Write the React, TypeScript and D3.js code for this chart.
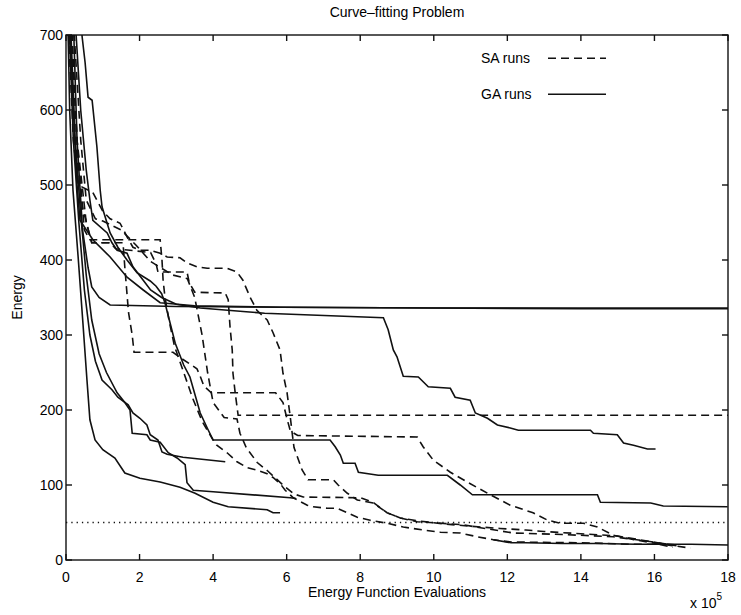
import React, { useEffect, useRef } from 'react';
import * as d3 from 'd3';

type Pt = [number, number];

// x in units of 1e5 evaluations, y = energy
const saRunA: Pt[] = [[0.1,720],[0.25,560],[0.45,470],[0.7,423],[1.2,423],[1.35,415],[2.3,410],[2.45,395],[2.5,384],[3.29,384],[3.35,370],[3.5,357],[4.33,356],[4.41,347],[4.46,311],[4.52,280],[4.54,249],[4.6,223],[4.68,193],[18,193]];
const saRunB: Pt[] = [[0.05,720],[0.2,560],[0.33,500],[0.73,490],[1.0,465],[1.2,455],[1.47,449],[1.66,431],[1.82,417],[2.01,413],[2.29,413],[2.56,409],[2.75,404],[3.1,403],[3.29,396],[3.56,391],[3.84,389],[4.38,389],[4.65,384],[4.81,373],[5.0,351],[5.19,333],[5.47,320],[5.63,303],[5.82,280],[5.9,249],[6.01,223],[6.1,190],[6.15,169],[6.2,150],[6.42,120],[6.58,107],[7.27,107],[7.4,100],[7.65,89],[7.92,80],[8.35,76],[8.73,63],[9.09,56],[9.55,51],[10.18,49],[10.8,47],[11.27,43],[12.16,36],[13.5,34],[14.88,31],[15.97,24],[16.6,19]];
const saRunC: Pt[] = [[0.15,720],[0.3,560],[0.5,440],[0.65,427],[2.56,427],[2.61,400],[2.64,373],[2.69,351],[2.8,320],[2.95,285],[3.2,250],[3.45,215],[3.7,185],[4.0,160],[4.1,153],[4.38,143],[4.65,131],[4.93,123],[5.19,120],[5.47,115],[5.63,110],[5.82,102],[5.96,93],[6.18,83],[6.56,73],[6.72,71],[7.1,69],[7.37,69],[7.65,63],[7.92,57],[8.27,53],[8.73,49],[9.17,44],[9.71,40],[10.18,37],[10.72,36],[11.18,31],[11.62,27],[12.1,24],[14,23],[15.35,21],[16.1,21],[16.5,17]];
const saRunD: Pt[] = [[0.12,720],[0.3,560],[0.55,450],[0.7,423],[1.55,423],[1.6,390],[1.7,330],[1.8,300],[1.85,277],[2.91,277],[3.1,270],[3.35,262],[3.56,255],[3.65,245],[3.75,232],[3.95,223],[5.7,223],[5.9,210],[6.0,190],[6.1,172],[6.3,166],[9.55,164],[9.71,151],[9.99,133],[10.45,117],[10.91,104],[11.46,89],[12.08,73],[12.7,63],[13.1,53],[13.44,49],[14.07,49],[14.45,44],[14.88,33],[15.35,28],[15.81,24],[16.35,20],[16.98,16]];
const saRunE: Pt[] = [[0.2,720],[0.4,560],[0.55,480],[0.8,455],[1.0,452],[1.5,440],[1.9,420],[2.3,398],[2.9,380],[3.3,375],[3.5,350],[3.7,300],[3.85,250],[4.0,210],[4.3,190],[4.65,188],[4.73,169],[4.9,150],[5.2,130],[5.5,118],[5.9,100],[6.2,88],[6.45,84],[8.0,83],[8.35,77],[8.73,63],[9.09,56],[9.6,52],[10.3,48],[11.0,45],[11.8,42],[12.5,40],[13.0,38],[14.0,35],[15.0,32],[15.6,27],[16.2,22],[16.6,20]];

const gaRun1: Pt[] = [[0.2,720],[0.3,560],[0.45,440],[0.6,390],[0.7,364],[0.9,350],[1.2,340],[3,338],[6,337],[10,336],[14,335],[18,335]];
const gaRun2: Pt[] = [[0.1,720],[0.2,600],[0.3,500],[0.38,453],[0.73,427],[1.2,404],[1.66,377],[2.1,360],[2.56,343],[3.5,339],[5.82,337],[10,336],[18,336]];
const gaRun3: Pt[] = [[0.25,720],[0.4,600],[0.55,520],[0.65,480],[0.73,453],[1.12,436],[1.25,423],[1.39,413],[1.66,409],[1.82,391],[2.1,373],[2.3,360],[2.6,350],[3.0,341],[3.65,336],[4.9,331],[5.4,329],[8.63,323],[8.76,307],[8.9,280],[9.0,271],[9.17,245],[9.58,244],[9.85,231],[10.45,229],[10.58,217],[10.99,213],[11.13,196],[11.46,189],[11.73,180],[12.08,176],[12.3,173],[14.26,173],[14.34,169],[14.99,167],[15.16,156],[15.43,153],[15.81,148],[16.03,148]];
const gaRun4: Pt[] = [[0.4,720],[0.44,697],[0.52,663],[0.6,617],[0.71,613],[0.84,551],[0.93,493],[0.98,471],[1.2,436],[1.41,417],[1.66,400],[1.93,383],[2.29,372],[2.45,365],[2.6,355],[2.69,343],[2.83,316],[2.97,289],[3.2,260],[3.37,244],[3.65,196],[3.85,175],[4.0,160],[7.18,160],[7.32,151],[7.46,140],[7.54,129],[7.86,129],[7.95,117],[8.49,113],[10.37,113],[10.72,100],[11.05,87],[14.45,87],[14.53,77],[15.9,76],[16.24,72],[17.99,71]];
const gaRun5: Pt[] = [[0.05,720],[0.1,600],[0.19,493],[0.33,404],[0.46,316],[0.57,240],[0.65,187],[0.79,160],[1.0,147],[1.33,136],[1.6,116],[2.01,109],[2.56,104],[3.1,97],[3.51,89],[4.0,77],[4.41,71],[5.47,67],[5.63,63],[5.82,63]];
const gaRun6: Pt[] = [[0.08,720],[0.2,560],[0.35,450],[0.5,360],[0.65,300],[0.8,265],[0.98,240],[1.25,227],[1.41,217],[1.69,207],[1.82,196],[2.01,189],[2.2,180],[2.29,167],[2.5,160],[2.61,144],[2.75,141],[3.18,137],[4.33,131]];
const gaRun7: Pt[] = [[0.12,720],[0.25,560],[0.4,460],[0.55,380],[0.7,320],[0.9,275],[1.1,250],[1.39,223],[1.6,210],[1.74,200],[1.8,169],[2.2,167],[2.29,160],[2.56,157],[2.78,143],[3.02,136],[3.24,127],[3.29,103],[3.46,93],[4.0,91],[6.1,83],[6.25,82]];
const gaRun8: Pt[] = [[11.62,27],[12.1,23],[12.5,23],[13.5,22],[14.5,22],[15.5,21],[16.3,21],[17,21],[18,20]];

const saRuns = [saRunA, saRunB, saRunC, saRunD, saRunE];
const gaRuns = [gaRun1, gaRun2, gaRun3, gaRun4, gaRun5, gaRun6, gaRun7, gaRun8];

const xTicks = [0, 2, 4, 6, 8, 10, 12, 14, 16, 18];
const yTicks = [0, 100, 200, 300, 400, 500, 600, 700];
const targetEnergy = 50;

const App = () => {
  const svgRef = useRef<SVGSVGElement>(null);
  const width = 741;
  const height = 615;

  useEffect(() => {
    const svg = d3.select(svgRef.current);
    svg.selectAll('*').remove();

    const margin = { top: 35, right: 13, bottom: 55, left: 66 };
    const innerWidth = width - margin.left - margin.right;
    const innerHeight = height - margin.top - margin.bottom;
    const font = '"Liberation Sans", Arial, Helvetica, sans-serif';
    const ink = '#111';

    const g = svg.append('g')
      .attr('transform', `translate(${margin.left},${margin.top})`);

    const xScale = d3.scaleLinear().domain([0, 18]).range([0, innerWidth]);
    const yScale = d3.scaleLinear().domain([0, 700]).range([innerHeight, 0]);

    svg.append('defs').append('clipPath').attr('id', 'plot-clip')
      .append('rect').attr('width', innerWidth).attr('height', innerHeight);

    const line = d3.line<Pt>()
      .x(d => xScale(d[0]))
      .y(d => yScale(d[1]));

    const runs = g.append('g').attr('clip-path', 'url(#plot-clip)');

    // target level
    runs.append('line')
      .attr('x1', 0).attr('x2', innerWidth)
      .attr('y1', yScale(targetEnergy)).attr('y2', yScale(targetEnergy))
      .attr('stroke', ink).attr('stroke-width', 1.3)
      .attr('stroke-dasharray', '1.3,4');

    saRuns.forEach(run => {
      runs.append('path')
        .attr('d', line(run))
        .attr('fill', 'none')
        .attr('stroke', ink)
        .attr('stroke-width', 1.6)
        .attr('stroke-dasharray', '8,5');
    });

    gaRuns.forEach(run => {
      runs.append('path')
        .attr('d', line(run))
        .attr('fill', 'none')
        .attr('stroke', ink)
        .attr('stroke-width', 1.6);
    });

    // box
    g.append('rect')
      .attr('width', innerWidth).attr('height', innerHeight)
      .attr('fill', 'none').attr('stroke', ink).attr('stroke-width', 1.4);

    const tickLen = 6;
    xTicks.forEach(t => {
      const x = xScale(t);
      g.append('line').attr('x1', x).attr('x2', x)
        .attr('y1', innerHeight).attr('y2', innerHeight - tickLen)
        .attr('stroke', ink).attr('stroke-width', 1.4);
      g.append('line').attr('x1', x).attr('x2', x)
        .attr('y1', 0).attr('y2', tickLen)
        .attr('stroke', ink).attr('stroke-width', 1.4);
      g.append('text')
        .attr('x', x).attr('y', innerHeight + 22)
        .attr('text-anchor', 'middle')
        .style('font-family', font).style('font-size', '14px')
        .text(t);
    });

    yTicks.forEach(t => {
      const y = yScale(t);
      g.append('line').attr('x1', 0).attr('x2', tickLen)
        .attr('y1', y).attr('y2', y)
        .attr('stroke', ink).attr('stroke-width', 1.4);
      g.append('line').attr('x1', innerWidth).attr('x2', innerWidth - tickLen)
        .attr('y1', y).attr('y2', y)
        .attr('stroke', ink).attr('stroke-width', 1.4);
      g.append('text')
        .attr('x', -3).attr('y', y + 5)
        .attr('text-anchor', 'end')
        .style('font-family', font).style('font-size', '14px')
        .text(t);
    });

    // titles
    svg.append('text')
      .attr('x', margin.left + innerWidth / 2).attr('y', 17)
      .attr('text-anchor', 'middle')
      .style('font-family', font).style('font-size', '14px')
      .text('Curve\u2013fitting Problem');

    svg.append('text')
      .attr('x', margin.left + innerWidth / 2).attr('y', 597)
      .attr('text-anchor', 'middle')
      .style('font-family', font).style('font-size', '14px')
      .text('Energy Function Evaluations');

    svg.append('text')
      .attr('transform', `translate(22,${margin.top + innerHeight / 2}) rotate(-90)`)
      .attr('text-anchor', 'middle')
      .style('font-family', font).style('font-size', '14px')
      .text('Energy');

    const mult = svg.append('text')
      .attr('x', 690).attr('y', 608)
      .style('font-family', font).style('font-size', '14px');
    mult.append('tspan').text('x 10');
    mult.append('tspan').attr('dy', -8).style('font-size', '10px').text('5');

    // legend
    const legend = g.append('g');
    const legendData = [
      { label: 'SA runs', dash: '8,5', value: 669 },
      { label: 'GA runs', dash: null, value: 621 }
    ];
    legendData.forEach(item => {
      const y = yScale(item.value);
      legend.append('text')
        .attr('x', 415).attr('y', y + 5)
        .style('font-family', font).style('font-size', '14px')
        .text(item.label);
      legend.append('line')
        .attr('x1', 482).attr('x2', 540)
        .attr('y1', y).attr('y2', y)
        .attr('stroke', ink).attr('stroke-width', 1.6)
        .attr('stroke-dasharray', item.dash);
    });
  }, []);

  return (
    <div>
      <svg ref={svgRef} width={width} height={height}
        style={{ position: 'absolute', left: 0, top: 0, background: '#fff' }} />
    </div>
  );
};

export default App;
